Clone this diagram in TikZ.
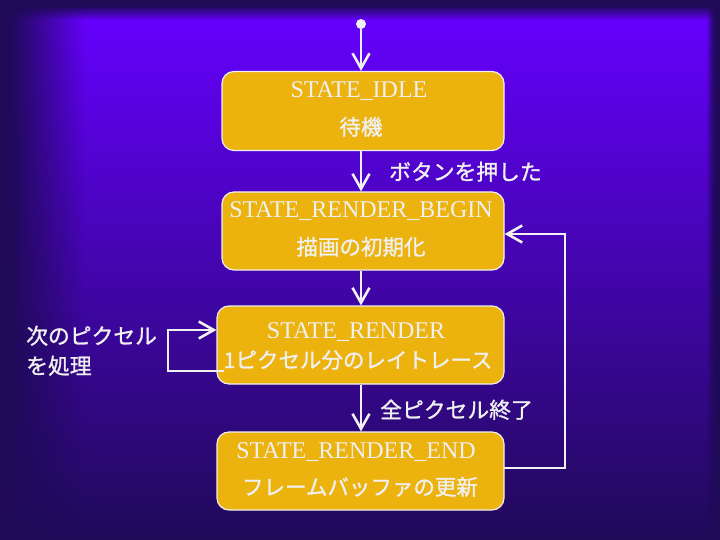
\documentclass[tikz,border=0pt]{standalone}
\usepackage{fontspec}
\setmainfont{Liberation Serif}
\newfontfamily\jp[FakeBold=1.2]{Noto Sans CJK JP}
\usetikzlibrary{arrows.meta,fadings}
\definecolor{bgmain}{HTML}{6600FF}
\definecolor{bgmid}{HTML}{5C00E8}
\definecolor{bgdark}{HTML}{1F0A58}
\definecolor{boxfill}{HTML}{ECB20E}
\definecolor{ink}{HTML}{F0F0F0}
\tikzset{
  statebox/.style={draw=ink,line width=1.2pt,fill=boxfill,rounded corners=12pt,inner sep=0pt},
  sname/.style={font=\fontsize{24}{28}\selectfont,text=ink,anchor=base,inner sep=0pt},
  sdesc/.style={font=\jp\fontsize{21.5}{26}\selectfont,text=ink,anchor=base,inner sep=0pt},
  tlabel/.style={font=\jp\fontsize{21.8}{26}\selectfont,text=ink,anchor=base west,inner sep=0pt},
  conn/.style={draw=ink,line width=2.8pt},
  arr/.style={conn,-{Straight Barb[length=15pt,width=17pt,line width=2.6pt]}}
}
\begin{document}
\begin{tikzpicture}[x=1pt,y=-1pt]
\useasboundingbox (0,0) rectangle (720,540);
% background
\fill[bgdark] (0,0) rectangle (720,540);
\shade[top color=bgmain,middle color=bgmid,bottom color=bgdark] (0,8) rectangle (714,540);
\fill[bgdark,path fading=east] (10,0) rectangle (85,540);
\fill[bgdark] (0,0) rectangle (10,540);
\fill[bgdark,path fading=south] (0,6) rectangle (720,20);
\fill[bgdark,path fading=west] (706,0) rectangle (714,540);
% states
\node[statebox,minimum width=282pt,minimum height=79pt] (idle) at (363,111) {};
\node[statebox,minimum width=282pt,minimum height=78pt] (begin) at (363,231) {};
\node[statebox,minimum width=287pt,minimum height=78pt] (render) at (360.5,345) {};
\node[statebox,minimum width=287pt,minimum height=78pt] (end) at (360.5,471) {};
% texts
\node[sname] (idle-n) at (359,98) {STATE\_IDLE};
\node[sdesc] (idle-d) at (361,135) {待機};
\node[sname] (begin-n) at (361,218) {STATE\_RENDER\_BEGIN};
\node[sdesc] (begin-d) at (361,255) {描画の初期化};
\node[sname] (render-n) at (356,338) {STATE\_RENDER};
\node[sdesc] (render-d) at (358,368) {1ピクセル分のレイトレース};
\node[sname] (end-n) at (356,458) {STATE\_RENDER\_END};
\node[sdesc] (end-d) at (360,495) {フレームバッファの更新};
% initial
\node[circle,fill=ink,minimum size=10pt,inner sep=0pt] (init) at (361,24) {};
% connectors
\draw[arr] (init) -- (init |- idle.north);
\draw[arr] (idle.south -| init) -- (begin.north -| init);
\draw[arr] (begin.south -| init) -- (render.north -| init);
\draw[arr] (render.south -| init) -- (end.north -| init);
\coordinate (ls) at (224,371);
\coordinate (lx) at (168,330);
\draw[arr] (ls) -| (lx) -- (lx -| render.west);
\coordinate (es) at (504,468);
\coordinate (rx) at (565,234);
\draw[arr] (es) -| (rx) -- (rx -| begin.east);
% labels
\node[tlabel] (lab1) at (389,180) {ボタンを押した};
\node[tlabel] (lab2) at (380,418) {全ピクセル終了};
\node[tlabel] (lab3a) at (26,344) {次のピクセル};
\node[tlabel] (lab3b) at (26,374) {を処理};
\end{tikzpicture}
\end{document}
